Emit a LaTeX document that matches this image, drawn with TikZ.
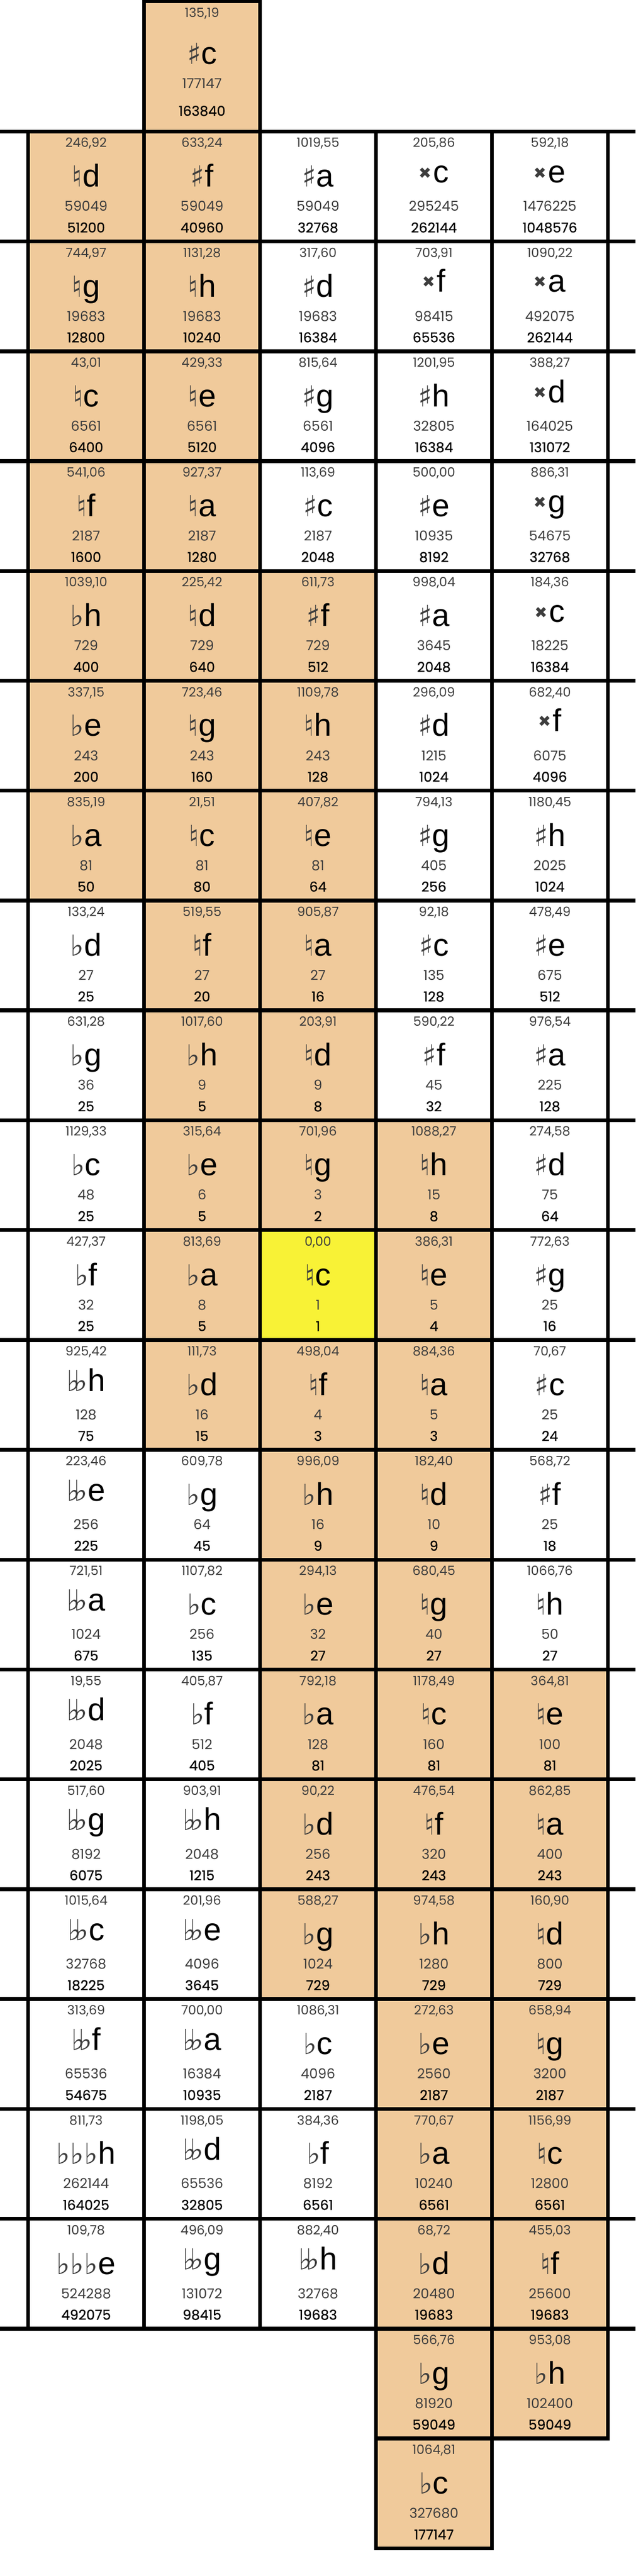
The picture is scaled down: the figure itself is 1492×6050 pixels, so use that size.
\documentclass[tikz,border=0pt]{standalone}
\usepackage{fontspec}
\setmainfont{Liberation Sans}
\newfontfamily\centfont{Poppins}
\newfontfamily\ratfont[FakeBold=0.5]{Poppins}
\newfontfamily\accfont{DejaVu Sans}

\definecolor{tonorange}{HTML}{F0CA9B}
\definecolor{tonyellow}{HTML}{F8F236}
\definecolor{tongray}{HTML}{3D3D3D}

% accidentals
\newcommand\acc[1]{{\accfont\fontsize{34}{34}\selectfont\color{tongray}#1}}
\newcommand\nat{\acc{♮}}
\newcommand\shp{\acc{♯}}
\newcommand\flt{\acc{♭}}
\newcommand\dflt{\acc{♭\kern-0.22em♭}}
\newcommand\tflt{\acc{♭\kern0.01em♭\kern0.01em♭}}
\newcommand\dshp{{\accfont\fontsize{18}{18}\selectfont\color{tongray}\raisebox{5pt}{✖}}\kern2pt}

% one cell: [note baseline]{col}{row}{fill}{cents}{note}{numerator}{denominator}
\newcommand\tone[8][130]{%
  \pgfmathsetmacro\cl{66+272.2*(#2-1)}%
  \pgfmathsetmacro\ct{309+258*(#3-1)}%
  \filldraw[cellline, fill=#4] (\cl,\ct) rectangle ++(272.2,258);
  \node[centlabel] (cent-#2-#3) at (\cl+136.1,\ct+37) {#5};
  \node[notelabel] (note-#2-#3) at (\cl+136.1,\ct+#1) {#6};
  \node[numlabel] (num-#2-#3) at (\cl+136.1,\ct+187) {#7};
  \node[denlabel] (den-#2-#3) at (\cl+136.1,\ct+237) {#8};
}

\begin{document}
\begin{tikzpicture}[x=0.5pt, y=-0.5pt]
\tikzset{cellline/.style={draw=black, line width=4.5pt, line join=miter},
  centlabel/.style={anchor=base, inner sep=0pt, text=tongray, font=\centfont\fontsize{15}{15}\selectfont},
  notelabel/.style={anchor=base, inner sep=0pt, font=\fontsize{37}{37}\selectfont},
  numlabel/.style={anchor=base, inner sep=0pt, text=tongray, font=\centfont\fontsize{16}{16}\selectfont},
  denlabel/.style={anchor=base, inner sep=0pt, text=black, font=\ratfont\fontsize{16}{16}\selectfont}}
\useasboundingbox (0,0) rectangle (1492,6050);

% top cell
\filldraw[cellline, fill=tonorange] (338.2,3) rectangle (610.4,309);
\node[centlabel] (cent-2-0) at (474.3,40) {135,19};
\node[notelabel] (note-2-0) at (474.3,151) {\shp c};
\node[numlabel] (num-2-0) at (474.3,207) {177147};
\node[denlabel] (den-2-0) at (474.3,272) {163840};

\tone{1}{1}{tonorange}{246,92}{\nat d}{59049}{51200}
\tone{2}{1}{tonorange}{633,24}{\shp f}{59049}{40960}
\tone{3}{1}{white}{1019,55}{\shp a}{59049}{32768}
\tone[120]{4}{1}{white}{205,86}{\dshp c}{295245}{262144}
\tone[120]{5}{1}{white}{592,18}{\dshp e}{1476225}{1048576}

\tone{1}{2}{tonorange}{744,97}{\nat g}{19683}{12800}
\tone{2}{2}{tonorange}{1131,28}{\nat h}{19683}{10240}
\tone{3}{2}{white}{317,60}{\shp d}{19683}{16384}
\tone[118]{4}{2}{white}{703,91}{\dshp f}{98415}{65536}
\tone[118]{5}{2}{white}{1090,22}{\dshp a}{492075}{262144}

\tone{1}{3}{tonorange}{43,01}{\nat c}{6561}{6400}
\tone{2}{3}{tonorange}{429,33}{\nat e}{6561}{5120}
\tone{3}{3}{white}{815,64}{\shp g}{6561}{4096}
\tone{4}{3}{white}{1201,95}{\shp h}{32805}{16384}
\tone[120]{5}{3}{white}{388,27}{\dshp d}{164025}{131072}

\tone{1}{4}{tonorange}{541,06}{\nat f}{2187}{1600}
\tone{2}{4}{tonorange}{927,37}{\nat a}{2187}{1280}
\tone{3}{4}{white}{113,69}{\shp c}{2187}{2048}
\tone{4}{4}{white}{500,00}{\shp e}{10935}{8192}
\tone[120]{5}{4}{white}{886,31}{\dshp g}{54675}{32768}

\tone{1}{5}{tonorange}{1039,10}{\flt h}{729}{400}
\tone{2}{5}{tonorange}{225,42}{\nat d}{729}{640}
\tone{3}{5}{tonorange}{611,73}{\shp f}{729}{512}
\tone{4}{5}{white}{998,04}{\shp a}{3645}{2048}
\tone[120]{5}{5}{white}{184,36}{\dshp c}{18225}{16384}

\tone{1}{6}{tonorange}{337,15}{\flt e}{243}{200}
\tone{2}{6}{tonorange}{723,46}{\nat g}{243}{160}
\tone{3}{6}{tonorange}{1109,78}{\nat h}{243}{128}
\tone{4}{6}{white}{296,09}{\shp d}{1215}{1024}
\tone[118]{5}{6}{white}{682,40}{\dshp f}{6075}{4096}

\tone{1}{7}{tonorange}{835,19}{\flt a}{81}{50}
\tone{2}{7}{tonorange}{21,51}{\nat c}{81}{80}
\tone{3}{7}{tonorange}{407,82}{\nat e}{81}{64}
\tone{4}{7}{white}{794,13}{\shp g}{405}{256}
\tone{5}{7}{white}{1180,45}{\shp h}{2025}{1024}

\tone{1}{8}{white}{133,24}{\flt d}{27}{25}
\tone{2}{8}{tonorange}{519,55}{\nat f}{27}{20}
\tone{3}{8}{tonorange}{905,87}{\nat a}{27}{16}
\tone{4}{8}{white}{92,18}{\shp c}{135}{128}
\tone{5}{8}{white}{478,49}{\shp e}{675}{512}

\tone{1}{9}{white}{631,28}{\flt g}{36}{25}
\tone{2}{9}{tonorange}{1017,60}{\flt h}{9}{5}
\tone{3}{9}{tonorange}{203,91}{\nat d}{9}{8}
\tone{4}{9}{white}{590,22}{\shp f}{45}{32}
\tone{5}{9}{white}{976,54}{\shp a}{225}{128}

\tone{1}{10}{white}{1129,33}{\flt c}{48}{25}
\tone{2}{10}{tonorange}{315,64}{\flt e}{6}{5}
\tone{3}{10}{tonorange}{701,96}{\nat g}{3}{2}
\tone{4}{10}{tonorange}{1088,27}{\nat h}{15}{8}
\tone{5}{10}{white}{274,58}{\shp d}{75}{64}

\tone{1}{11}{white}{427,37}{\flt f}{32}{25}
\tone{2}{11}{tonorange}{813,69}{\flt a}{8}{5}
\tone{3}{11}{tonyellow}{0,00}{\nat c}{1}{1}
\tone{4}{11}{tonorange}{386,31}{\nat e}{5}{4}
\tone{5}{11}{white}{772,63}{\shp g}{25}{16}

\tone[120]{1}{12}{white}{925,42}{\dflt h}{128}{75}
\tone{2}{12}{tonorange}{111,73}{\flt d}{16}{15}
\tone{3}{12}{tonorange}{498,04}{\nat f}{4}{3}
\tone{4}{12}{tonorange}{884,36}{\nat a}{5}{3}
\tone{5}{12}{white}{70,67}{\shp c}{25}{24}

\tone[120]{1}{13}{white}{223,46}{\dflt e}{256}{225}
\tone{2}{13}{white}{609,78}{\flt g}{64}{45}
\tone{3}{13}{tonorange}{996,09}{\flt h}{16}{9}
\tone{4}{13}{tonorange}{182,40}{\nat d}{10}{9}
\tone{5}{13}{white}{568,72}{\shp f}{25}{18}

\tone[120]{1}{14}{white}{721,51}{\dflt a}{1024}{675}
\tone{2}{14}{white}{1107,82}{\flt c}{256}{135}
\tone{3}{14}{tonorange}{294,13}{\flt e}{32}{27}
\tone{4}{14}{tonorange}{680,45}{\nat g}{40}{27}
\tone{5}{14}{white}{1066,76}{\nat h}{50}{27}

\tone[120]{1}{15}{white}{19,55}{\dflt d}{2048}{2025}
\tone{2}{15}{white}{405,87}{\flt f}{512}{405}
\tone{3}{15}{tonorange}{792,18}{\flt a}{128}{81}
\tone{4}{15}{tonorange}{1178,49}{\nat c}{160}{81}
\tone{5}{15}{tonorange}{364,81}{\nat e}{100}{81}

\tone[120]{1}{16}{white}{517,60}{\dflt g}{8192}{6075}
\tone[120]{2}{16}{white}{903,91}{\dflt h}{2048}{1215}
\tone{3}{16}{tonorange}{90,22}{\flt d}{256}{243}
\tone{4}{16}{tonorange}{476,54}{\nat f}{320}{243}
\tone{5}{16}{tonorange}{862,85}{\nat a}{400}{243}

\tone[120]{1}{17}{white}{1015,64}{\dflt c}{32768}{18225}
\tone[120]{2}{17}{white}{201,96}{\dflt e}{4096}{3645}
\tone{3}{17}{tonorange}{588,27}{\flt g}{1024}{729}
\tone{4}{17}{tonorange}{974,58}{\flt h}{1280}{729}
\tone{5}{17}{tonorange}{160,90}{\nat d}{800}{729}

\tone[120]{1}{18}{white}{313,69}{\dflt f}{65536}{54675}
\tone[120]{2}{18}{white}{700,00}{\dflt a}{16384}{10935}
\tone{3}{18}{white}{1086,31}{\flt c}{4096}{2187}
\tone{4}{18}{tonorange}{272,63}{\flt e}{2560}{2187}
\tone{5}{18}{tonorange}{658,94}{\nat g}{3200}{2187}

\tone{1}{19}{white}{811,73}{\tflt h}{262144}{164025}
\tone[120]{2}{19}{white}{1198,05}{\dflt d}{65536}{32805}
\tone{3}{19}{white}{384,36}{\flt f}{8192}{6561}
\tone{4}{19}{tonorange}{770,67}{\flt a}{10240}{6561}
\tone{5}{19}{tonorange}{1156,99}{\nat c}{12800}{6561}

\tone{1}{20}{white}{109,78}{\tflt e}{524288}{492075}
\tone[120]{2}{20}{white}{496,09}{\dflt g}{131072}{98415}
\tone[120]{3}{20}{white}{882,40}{\dflt h}{32768}{19683}
\tone{4}{20}{tonorange}{68,72}{\flt d}{20480}{19683}
\tone{5}{20}{tonorange}{455,03}{\nat f}{25600}{19683}

\tone{4}{21}{tonorange}{566,76}{\flt g}{81920}{59049}
\tone{5}{21}{tonorange}{953,08}{\flt h}{102400}{59049}

\tone{4}{22}{tonorange}{1064,81}{\flt c}{327680}{177147}

% row rules run out to both edges
\foreach \k in {0,...,20}
  \draw[line width=4.5pt] (0,309+258*\k) -- (1492,309+258*\k);
\end{tikzpicture}
\end{document}
